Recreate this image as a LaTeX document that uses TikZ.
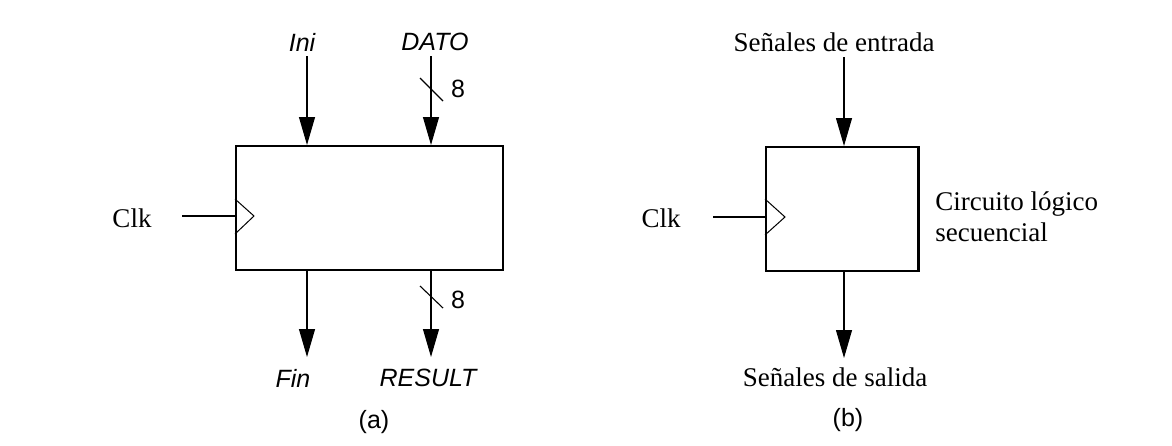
\documentclass[tikz,border=0pt]{standalone}
\usepackage{fontspec}
\setmainfont{Liberation Serif}
\newfontfamily\arl{Liberation Sans}
\usetikzlibrary{arrows.meta}
\begin{document}
\begin{tikzpicture}[x=0.5pt,y=-0.5pt,
  arr/.style={line width=0.55pt,-{Triangle[length=14pt,width=8pt]}},
  thinline/.style={line width=0.55pt},
  blockbox/.style={draw,line width=0.8pt,inner sep=0pt,anchor=north west},
  tlabel/.style={font=\fontsize{13.5}{16}\selectfont,inner sep=0pt},
  alabel/.style={font=\arl\itshape\fontsize{12.5}{14}\selectfont,inner sep=0pt},
  aplain/.style={font=\arl\fontsize{12.5}{14}\selectfont,inner sep=0pt},
  clktri/.style={line width=0.5pt}]
\useasboundingbox (0,0) rectangle (1172,445);
% ---------- (a) ----------
\node[blockbox,minimum width=133.5pt,minimum height=62pt] (boxA) at (235,145) {};
\node[alabel] (ini) at (302,42) {Ini};
\node[alabel] (dato) at (435,42) {DATO};
\coordinate (iniTop) at (307,56);
\coordinate (datoTop) at (431,56);
\draw[arr] (iniTop) -- (iniTop |- boxA.north);
\draw[arr] (datoTop) -- (datoTop |- boxA.north);
\draw[thinline] (420,78) -- (443,101);
\node[aplain] (n8a) at (458,89) {8};
\node[alabel] (fin) at (293,378) {Fin};
\node[alabel] (result) at (428,378) {RESULT};
\coordinate (finEnd) at (307,357);
\coordinate (resEnd) at (431,357);
\draw[arr] (finEnd |- boxA.south) -- (finEnd);
\draw[arr] (resEnd |- boxA.south) -- (resEnd);
\draw[thinline] (420,286) -- (443,308);
\node[aplain] (n8b) at (458,300) {8};
\node[tlabel] (clkA) at (132,218) {Clk};
\coordinate (clkAst) at (182,216);
\draw[thinline] (clkAst) -- (clkAst -| boxA.west);
\draw[clktri] (235,199) -- (254,216) -- (235,234);
\node[aplain] (capa) at (374,422) {(a)};
% ---------- (b) ----------
\node[blockbox,minimum width=76pt,minimum height=62pt] (boxB) at (765,146) {};
\draw[line width=1.2pt] (boxB.north east) -- (boxB.south east);
\node[tlabel] (sin) at (834,42) {Señales de entrada};
\coordinate (inTop) at (844,57);
\draw[arr] (inTop) -- (inTop |- boxB.north);
\node[tlabel] (sout) at (835,377) {Señales de salida};
\coordinate (outEnd) at (844,358);
\draw[arr] (outEnd |- boxB.south) -- (outEnd);
\node[tlabel] (clkB) at (661,218) {Clk};
\coordinate (clkBst) at (713,217);
\draw[thinline] (clkBst) -- (clkBst -| boxB.west);
\draw[clktri] (765,199) -- (785,217) -- (765,235);
\node[tlabel,align=left,anchor=west,font=\fontsize{13.5}{15.5}\selectfont] (desc) at (935,217) {Circuito lógico\\secuencial};
\node[aplain] (capb) at (848,420) {(b)};
\end{tikzpicture}
\end{document}
